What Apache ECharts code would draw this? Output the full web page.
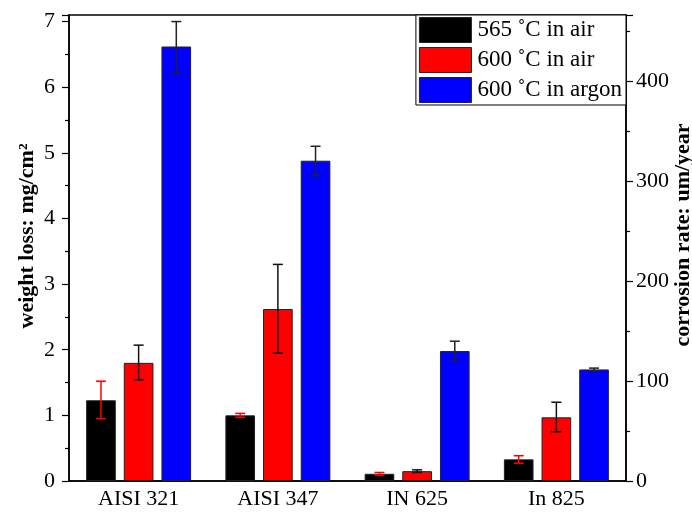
<!DOCTYPE html>
<html>
<head>
<meta charset="utf-8">
<script src="https://cdn.jsdelivr.net/npm/echarts@6/dist/echarts.min.js"></script>
<style>html,body{margin:0;padding:0;background:#fff}#c{width:692px;height:514px}</style>
</head>
<body>
<div id="c"></div>
<script>
const categories = ['AISI 321', 'AISI 347', 'IN 625', 'In 825'];
const seriesNames = ['565 ˚C in air', '600 ˚C in air', '600 ˚C in argon'];
const air565 = [1.23, 1.00, 0.11, 0.33];
const air600 = [1.80, 2.62, 0.15, 0.97];
const argon600 = [6.62, 4.88, 1.98, 1.70];
const air565Err = [[0.95, 1.52], [0.97, 1.03], [0.09, 0.13], [0.27, 0.385]];
const air600Err = [[1.54, 2.07], [1.95, 3.30], [0.13, 0.17], [0.75, 1.20]];
const argon600Err = [[6.21, 7.00], [4.65, 5.10], [1.84, 2.13], [1.68, 1.72]];
const leftTicks = [0, 1, 2, 3, 4, 5, 6, 7];
const rightTicks = [0, 100, 200, 300, 400];

const FONT = 'Liberation Serif';
const BW = 0.213, GAP = 0.27;
const colors = ['#000000', '#ff0000', '#0000ff'];
const errColors = ['#ff0000', '#111111', '#222222'];
const values = [air565, air600, argon600];
const errs = [air565Err, air600Err, argon600Err];

const chart = echarts.init(document.getElementById('c'), null, {renderer: 'canvas'});

function errSeries(k) {
  return {
    type: 'custom',
    name: 'err' + k,
    yAxisIndex: 0,
    z: 10,
    silent: true,
    data: errs[k].map((e, i) => [i, e[0], e[1]]),
    renderItem: function (params, api) {
      const cat = api.value(0);
      const lo = api.coord([cat, api.value(1)]);
      const hi = api.coord([cat, api.value(2)]);
      const band = api.size([1, 0])[0];
      const x = lo[0] + (k - 1) * band * BW * (1 + GAP);
      const cap = 5;
      const st = {stroke: errColors[k], lineWidth: 1.5};
      return {
        type: 'group',
        children: [
          {type: 'line', shape: {x1: x, y1: lo[1], x2: x, y2: hi[1]}, style: st},
          {type: 'line', shape: {x1: x - cap, y1: lo[1], x2: x + cap, y2: lo[1]}, style: st},
          {type: 'line', shape: {x1: x - cap, y1: hi[1], x2: x + cap, y2: hi[1]}, style: st}
        ]
      };
    }
  };
}

const barSeries = values.map((v, k) => ({
  type: 'bar',
  name: seriesNames[k],
  yAxisIndex: 0,
  data: v,
  barWidth: (BW * 100) + '%',
  barGap: (GAP * 100) + '%',
  itemStyle: {color: colors[k], borderColor: '#222', borderWidth: 1}
}));

chart.setOption({
  animation: false,
  backgroundColor: '#fff',
  textStyle: {fontFamily: FONT},
  grid: {left: 69, right: 66, top: 15, bottom: 33, outerBoundsMode: 'none', containLabel: false,
    show: true, borderColor: '#000', borderWidth: 1.5, backgroundColor: 'transparent'},
  legend: {
    data: seriesNames,
    orient: 'vertical',
    right: 66,
    top: 15,
    itemWidth: 52,
    itemHeight: 25,
    itemGap: 4,
    padding: [2, 4, 2, 3],
    backgroundColor: '#fff',
    borderColor: '#000',
    borderWidth: 1,
    textStyle: {fontFamily: FONT, fontSize: 23, color: '#000', padding: [0, 0, 0, 1]},
    icon: 'rect',
    itemStyle: {borderColor: '#222', borderWidth: 1}
  },
  xAxis: {
    type: 'category',
    data: categories,
    axisTick: {show: false},
    axisLine: {lineStyle: {color: '#000', width: 1.5}},
    axisLabel: {fontFamily: FONT, fontSize: 22, color: '#000', margin: 7}
  },
  yAxis: [
    {
      type: 'value',
      min: leftTicks[0],
      max: 7.1,
      interval: leftTicks[1] - leftTicks[0],
      position: 'left',
      name: 'weight loss: mg/cm²',
      nameLocation: 'middle',
      nameRotate: 90,
      nameGap: 31,
      nameMoveOverlap: false,
      nameTextStyle: {fontFamily: FONT, fontSize: 22, fontWeight: 'bold', color: '#000', padding: [0, 0, 0, 24]},
      axisLine: {show: true, lineStyle: {color: '#000', width: 1.5}},
      axisTick: {show: true, inside: false, length: 7, lineStyle: {color: '#000', width: 1.2}},
      minorTick: {show: true, splitNumber: 2, length: 4, lineStyle: {color: '#000', width: 1.2}},
      splitLine: {show: false},
      axisLabel: {fontFamily: FONT, fontSize: 22, color: '#000', margin: 14, showMaxLabel: false,
        formatter: v => leftTicks.includes(v) ? String(v) : ''}
    },
    {
      type: 'value',
      min: rightTicks[0],
      max: 466,
      interval: rightTicks[1] - rightTicks[0],
      position: 'right',
      name: 'corrosion rate: um/year',
      nameLocation: 'middle',
      nameRotate: 90,
      nameGap: 46,
      nameMoveOverlap: false,
      nameTextStyle: {fontFamily: FONT, fontSize: 22, fontWeight: 'bold', color: '#000', padding: [0, 0, 0, 26]},
      axisLine: {show: true, lineStyle: {color: '#000', width: 1.5}},
      axisTick: {show: true, inside: false, length: 7, lineStyle: {color: '#000', width: 1.2}},
      minorTick: {show: true, splitNumber: 2, length: 4, lineStyle: {color: '#000', width: 1.2}},
      splitLine: {show: false},
      axisLabel: {fontFamily: FONT, fontSize: 22, color: '#000', margin: 10, showMaxLabel: false,
        formatter: v => rightTicks.includes(v) ? String(v) : ''}
    }
  ],
  series: barSeries.concat([errSeries(0), errSeries(1), errSeries(2)])
});
</script>
</body>
</html>
